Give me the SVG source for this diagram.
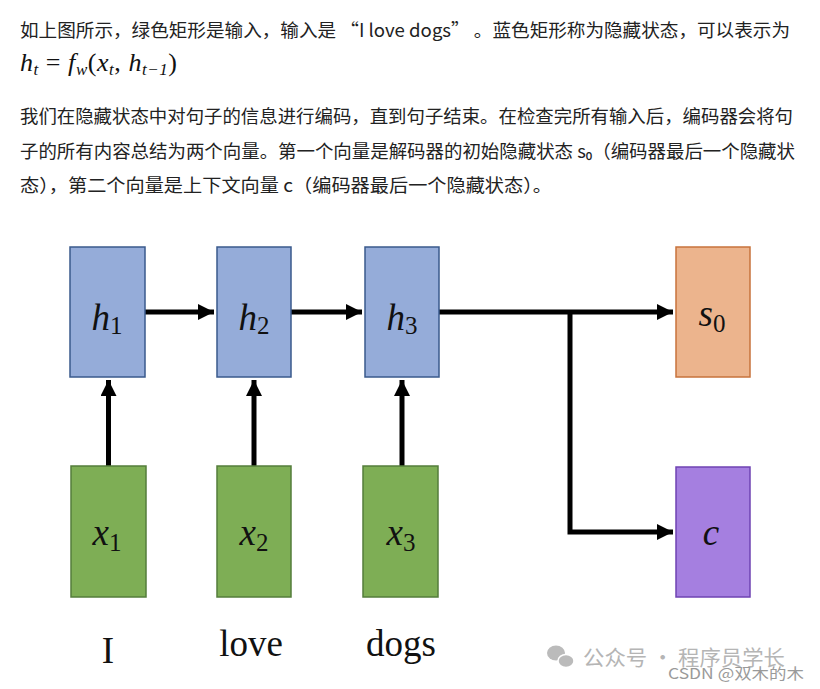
<svg xmlns="http://www.w3.org/2000/svg" width="820" height="689" viewBox="0 0 820 689">
<style>
.body{font-family:"Noto Sans CJK SC","Noto Sans",sans-serif;font-size:18px;fill:#222}
.math{font-family:"Liberation Serif",serif;font-style:italic;fill:#111}
.lbl{font-family:"Liberation Serif",serif;font-style:italic;font-size:37px;fill:#111;text-anchor:middle}
.sub{font-style:normal;font-size:25px}
.word{font-family:"Liberation Serif",serif;font-size:37px;fill:#111;text-anchor:middle}
.blue{fill:#95acd9;stroke:#3a5a8c;stroke-width:1.5}
.green{fill:#7eae55;stroke:#547d3b;stroke-width:1.5}
.orange{fill:#ecb48d;stroke:#c7733c;stroke-width:1.5}
.purple{fill:#a57fe0;stroke:#6f43b3;stroke-width:1.5}
.conn{stroke:#000;stroke-width:5;fill:none}
.wm{font-family:"Noto Sans CJK SC",sans-serif;fill:#b5b5b5}
</style>
<defs>
<marker id="ah" viewBox="0 0 10 10" refX="10" refY="5" markerWidth="3.2" markerHeight="3.2" markerUnits="strokeWidth" orient="auto">
<path d="M0,0 L10,5 L0,10 Z" fill="#000"/>
</marker>
</defs>

<g id="text">
<text class="body" x="20" y="37" textLength="770" lengthAdjust="spacingAndGlyphs">如上图所示，绿色矩形是输入，输入是 “I love dogs” 。蓝色矩形称为隐藏状态，可以表示为</text>
<text class="math" x="20" y="71" font-size="26" textLength="157" lengthAdjust="spacing">h<tspan font-size="17" dy="4">t</tspan><tspan dy="-4" font-style="normal"> = </tspan>f<tspan font-size="17" dy="4">w</tspan><tspan dy="-4" font-style="normal">(</tspan>x<tspan font-size="17" dy="4">t</tspan><tspan dy="-4" font-style="normal">, </tspan>h<tspan font-size="17" dy="4">t−1</tspan><tspan dy="-4" font-style="normal">)</tspan></text>
<text class="body" x="20" y="123" textLength="773" lengthAdjust="spacingAndGlyphs">我们在隐藏状态中对句子的信息进行编码，直到句子结束。在检查完所有输入后，编码器会将句</text>
<text class="body" x="20" y="158" textLength="775" lengthAdjust="spacingAndGlyphs">子的所有内容总结为两个向量。第一个向量是解码器的初始隐藏状态 s₀（编码器最后一个隐藏状</text>
<text class="body" x="20" y="192" textLength="532" lengthAdjust="spacingAndGlyphs">态），第二个向量是上下文向量 c（编码器最后一个隐藏状态）。</text>
</g>

<g id="connectors">
<path class="conn" d="M145,312 H214" marker-end="url(#ah)"/>
<path class="conn" d="M291,312 H362" marker-end="url(#ah)"/>
<path class="conn" d="M439,312 H673" marker-end="url(#ah)"/>
<path class="conn" d="M570,312 V532 H673" marker-end="url(#ah)"/>
<path class="conn" d="M108.5,466 V380" marker-end="url(#ah)"/>
<path class="conn" d="M254,466 V380" marker-end="url(#ah)"/>
<path class="conn" d="M402,466 V380" marker-end="url(#ah)"/>
</g>

<g id="h1"><rect class="blue" x="70" y="247" width="75" height="130"/><text class="lbl" x="107" y="330">h<tspan class="sub" dy="4">1</tspan></text></g>
<g id="h2"><rect class="blue" x="217" y="247" width="74" height="130"/><text class="lbl" x="254" y="330">h<tspan class="sub" dy="4">2</tspan></text></g>
<g id="h3"><rect class="blue" x="365" y="247" width="74" height="130"/><text class="lbl" x="402" y="330">h<tspan class="sub" dy="4">3</tspan></text></g>
<g id="s0"><rect class="orange" x="676" y="247" width="74" height="130"/><text class="lbl" x="712" y="326">s<tspan class="sub" dy="6">0</tspan></text></g>
<g id="c"><rect class="purple" x="676" y="467" width="74" height="130"/><text class="lbl" x="711" y="545">c</text></g>
<g id="x1"><rect class="green" x="71" y="466" width="75" height="131"/><text class="lbl" x="107" y="545">x<tspan class="sub" dy="6">1</tspan></text></g>
<g id="x2"><rect class="green" x="217" y="466" width="74" height="131"/><text class="lbl" x="254" y="545">x<tspan class="sub" dy="6">2</tspan></text></g>
<g id="x3"><rect class="green" x="363" y="466" width="75" height="131"/><text class="lbl" x="401" y="545">x<tspan class="sub" dy="6">3</tspan></text></g>

<g id="words">
<text class="word" x="108" y="663">I</text>
<text class="word" x="251" y="656">love</text>
<text class="word" x="401" y="656">dogs</text>
</g>

<g id="watermark">
<ellipse cx="556" cy="653" rx="9" ry="7.5" fill="#bbb"/>
<ellipse cx="566" cy="661" rx="8" ry="6.5" fill="#bbb" stroke="#fff" stroke-width="1.5"/>
<text class="wm" x="583" y="665" font-size="21" textLength="202" lengthAdjust="spacingAndGlyphs">公众号 · 程序员学长</text>
<text class="wm" x="668" y="679" font-size="15" style="fill:#9a9a9a" textLength="136" lengthAdjust="spacingAndGlyphs">CSDN @双木的木</text>
</g>
</svg>
